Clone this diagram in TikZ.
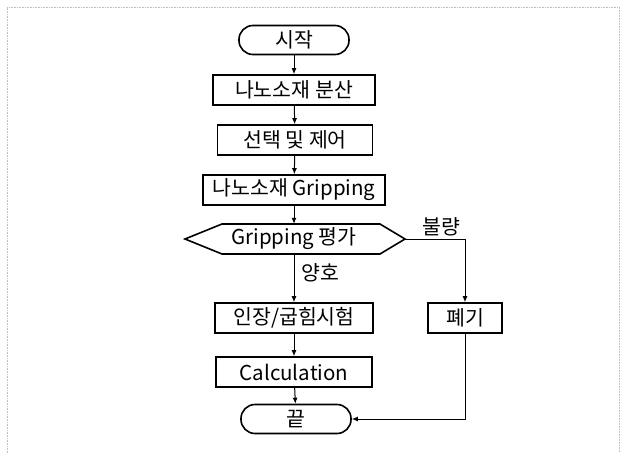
\documentclass[tikz,border=0pt]{standalone}
\usepackage{fontspec}
\setmainfont{Noto Sans CJK KR}
\usepackage{tikz}
\usetikzlibrary{arrows,arrows.meta}

\tikzset{
  box/.style={draw, line width=1.6pt, minimum height=30pt, inner sep=0pt},
  term/.style={box, rounded corners=14pt},
  line/.style={line width=1pt, -{Latex[length=6pt,width=5pt]}},
}

\begin{document}
\begin{tikzpicture}[x=1pt,y=-1pt,font=\fontsize{20.5}{20.5}\selectfont]
\useasboundingbox (0,0) rectangle (625,453);
\draw[gray!50, densely dotted, line width=0.6pt] (7,453) -- (7,7) -- (619,7) -- (619,453);

\node[term, minimum width=110pt, minimum height=29pt] (start) at (294,40) {시작};
\node[box, minimum width=162pt] (disperse) at (294,90) {나노소재 분산};
\node[box, minimum width=155pt] (select) at (295,140) {선택 및 제어};
\node[box, minimum width=182pt] (grip) at (294,190) {나노소재 Gripping};

\node[minimum width=140pt, minimum height=30pt, inner sep=0pt] (eval) at (294,239) {Gripping 평가};
\coordinate (evalW) at (185,239);
\coordinate (evalE) at (405,239);
\draw[line width=1.6pt] (evalW) -- (222,224) -- (380,224) -- (evalE) -- (380,254) -- (222,254) -- cycle;

\node[box, minimum width=158pt] (test) at (294,318) {인장/굽힘시험};
\node[box, minimum width=156pt] (calc) at (294,372) {Calculation};
\node[term, minimum width=110pt, minimum height=29pt] (finish) at (296,419) {끝};
\node[box, minimum width=74pt] (reject) at (465,318) {폐기};

\node (good) at (320,273) {양호};
\node (bad) at (441,227) {불량};

\draw[line] (start) -- (disperse);
\draw[line] (disperse) -- (select);
\draw[line] (select) -- (grip);
\draw[line] (grip) -- (eval);
\draw[line] (eval) -- (test);
\draw[line] (test) -- (calc);
\draw[line] (calc) -- (finish);
\draw[line] (evalE) -| (reject);
\draw[line] (reject) |- (finish);
\end{tikzpicture}
\end{document}
